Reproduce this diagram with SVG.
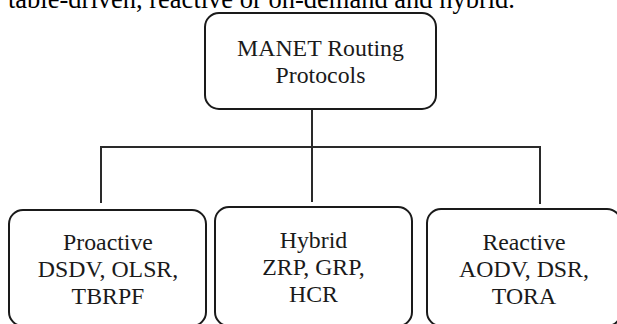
<svg xmlns="http://www.w3.org/2000/svg" width="617" height="324" viewBox="0 0 617 324">
  <style>
    .box { fill: #ffffff; stroke: #1a1a1a; stroke-width: 2; }
    .lbl { font-family: "Liberation Serif", "Times New Roman", serif; font-size: 23.8px; fill: #1a1a1a; text-anchor: middle; }
    .edge { stroke: #2a2a2a; stroke-width: 2; fill: none; }
    .cap { font-family: "Liberation Serif", "Times New Roman", serif; font-size: 26.5px; fill: #000; }
  </style>
  <rect width="617" height="324" fill="#ffffff"/>
  <text class="cap" x="8" y="8">table-driven, reactive or on-demand and hybrid.</text>
  <g id="connectors">
    <line class="edge" x1="312" y1="109" x2="312" y2="202"/>
    <line class="edge" x1="100" y1="147" x2="541" y2="147"/>
    <line class="edge" x1="101" y1="146" x2="101" y2="203"/>
    <line class="edge" x1="540" y1="146" x2="540" y2="204"/>
  </g>
  <g id="root">
    <rect class="box" x="205" y="13" width="231" height="96" rx="14"/>
    <text class="lbl" x="320.5" y="56">MANET Routing</text>
    <text class="lbl" x="320.5" y="83">Protocols</text>
  </g>
  <g id="proactive">
    <rect class="box" x="9" y="210" width="197" height="116" rx="14"/>
    <text class="lbl" x="108" y="250">Proactive</text>
    <text class="lbl" x="108" y="277">DSDV, OLSR,</text>
    <text class="lbl" x="108" y="304">TBRPF</text>
  </g>
  <g id="hybrid">
    <rect class="box" x="215" y="207" width="197" height="119" rx="14"/>
    <text class="lbl" x="313.5" y="248">Hybrid</text>
    <text class="lbl" x="313.5" y="275">ZRP, GRP,</text>
    <text class="lbl" x="313.5" y="302">HCR</text>
  </g>
  <g id="reactive">
    <rect class="box" x="427" y="209" width="194" height="117" rx="14"/>
    <text class="lbl" x="524" y="250">Reactive</text>
    <text class="lbl" x="524" y="277">AODV, DSR,</text>
    <text class="lbl" x="524" y="304">TORA</text>
  </g>
</svg>
